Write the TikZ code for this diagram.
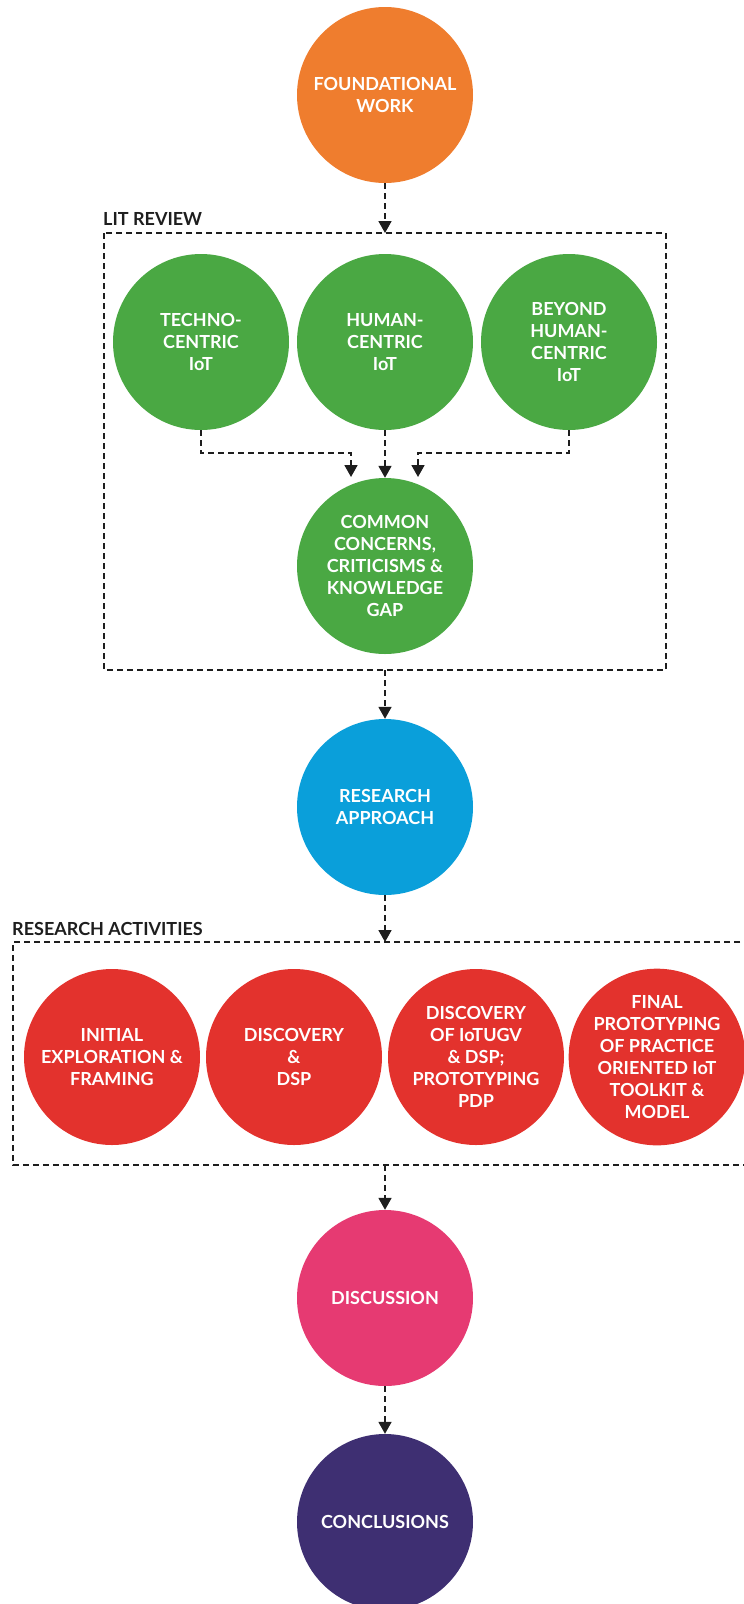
\documentclass[tikz,border=0pt]{standalone}
\usepackage{fontspec}
\setmainfont{Lato}
\usetikzlibrary{arrows.meta}
\definecolor{cOrange}{HTML}{EF7D2E}
\definecolor{cGreen}{HTML}{4AA843}
\definecolor{cBlue}{HTML}{0A9FDA}
\definecolor{cRed}{HTML}{E3322D}
\definecolor{cPink}{HTML}{E63A72}
\definecolor{cPurple}{HTML}{3E2F72}
\definecolor{cInk}{HTML}{1E1E1E}
\begin{document}
\begin{tikzpicture}[x=1pt,y=-1pt,
  stage/.style={circle,minimum size=176pt,inner sep=0pt,text=white,align=center,
    font=\bfseries\fontsize{18}{22}\selectfont},
  flow/.style={draw=cInk,line width=1.8pt,dash pattern=on 6pt off 4pt,
    -{Triangle[width=13pt,length=12pt]}},
  frame/.style={draw=cInk,line width=1.8pt,dash pattern=on 6pt off 4pt},
  grouplabel/.style={anchor=base west,inner sep=0pt,text=cInk,
    font=\bfseries\fontsize{18}{20}\selectfont}]
\useasboundingbox (0,0) rectangle (744,1604);

% group frames
\draw[frame] (104,233) rectangle (666,670);
\node[grouplabel] (litlabel) at (103,225) {LIT REVIEW};
\draw[frame] (750,942) -- (13,942) -- (13,1165) -- (750,1165);
\node[grouplabel] (ralabel) at (12,935) {RESEARCH ACTIVITIES};

\coordinate (litTop) at (385,233);
\coordinate (litBot) at (385,670);
\coordinate (raTop) at (385,942);
\coordinate (raBot) at (385,1165);

% stages
\node[stage,fill=cOrange] (found) at (385,95) {FOUNDATIONAL\\WORK};
\node[stage,fill=cGreen] (tech) at (201,342) {TECHNO-\\CENTRIC\\IoT};
\node[stage,fill=cGreen] (human) at (385,342) {HUMAN-\\CENTRIC\\IoT};
\node[stage,fill=cGreen] (beyond) at (569,342) {BEYOND\\HUMAN-\\CENTRIC\\IoT};
\node[stage,fill=cGreen] (common) at (385,566) {COMMON\\CONCERNS,\\CRITICISMS \&\\KNOWLEDGE\\GAP};
\node[stage,fill=cBlue] (approach) at (385,807) {RESEARCH\\APPROACH};
\node[stage,fill=cRed] (init) at (112,1057) {INITIAL\\EXPLORATION \&\\FRAMING};
\node[stage,fill=cRed] (disc) at (294,1057) {DISCOVERY\\\&\\DSP};
\node[stage,fill=cRed] (iotugv) at (476,1057) {DISCOVERY\\OF IoTUGV\\\& DSP;\\PROTOTYPING\\PDP};
\node[stage,fill=cRed] (final) at (657,1057) {FINAL\\PROTOTYPING\\OF PRACTICE\\ORIENTED IoT\\TOOLKIT \&\\MODEL};
\node[stage,fill=cPink] (discussion) at (385,1298) {DISCUSSION};
\node[stage,fill=cPurple] (concl) at (385,1522) {CONCLUSIONS};

% connectors
\coordinate (joinL) at (351,477);
\coordinate (joinR) at (418,477);
\draw[flow] (found.south) -- (litTop);
\draw[flow] (tech.south) |- (351,453) -- (joinL);
\draw[flow] (human.south) -- (common.north);
\draw[flow] (beyond.south) |- (418,453) -- (joinR);
\draw[flow] (litBot) -- (approach.north);
\draw[flow] (approach.south) -- (raTop);
\draw[flow] (raBot) -- (discussion.north);
\draw[flow] (discussion.south) -- (concl.north);
\end{tikzpicture}
\end{document}
